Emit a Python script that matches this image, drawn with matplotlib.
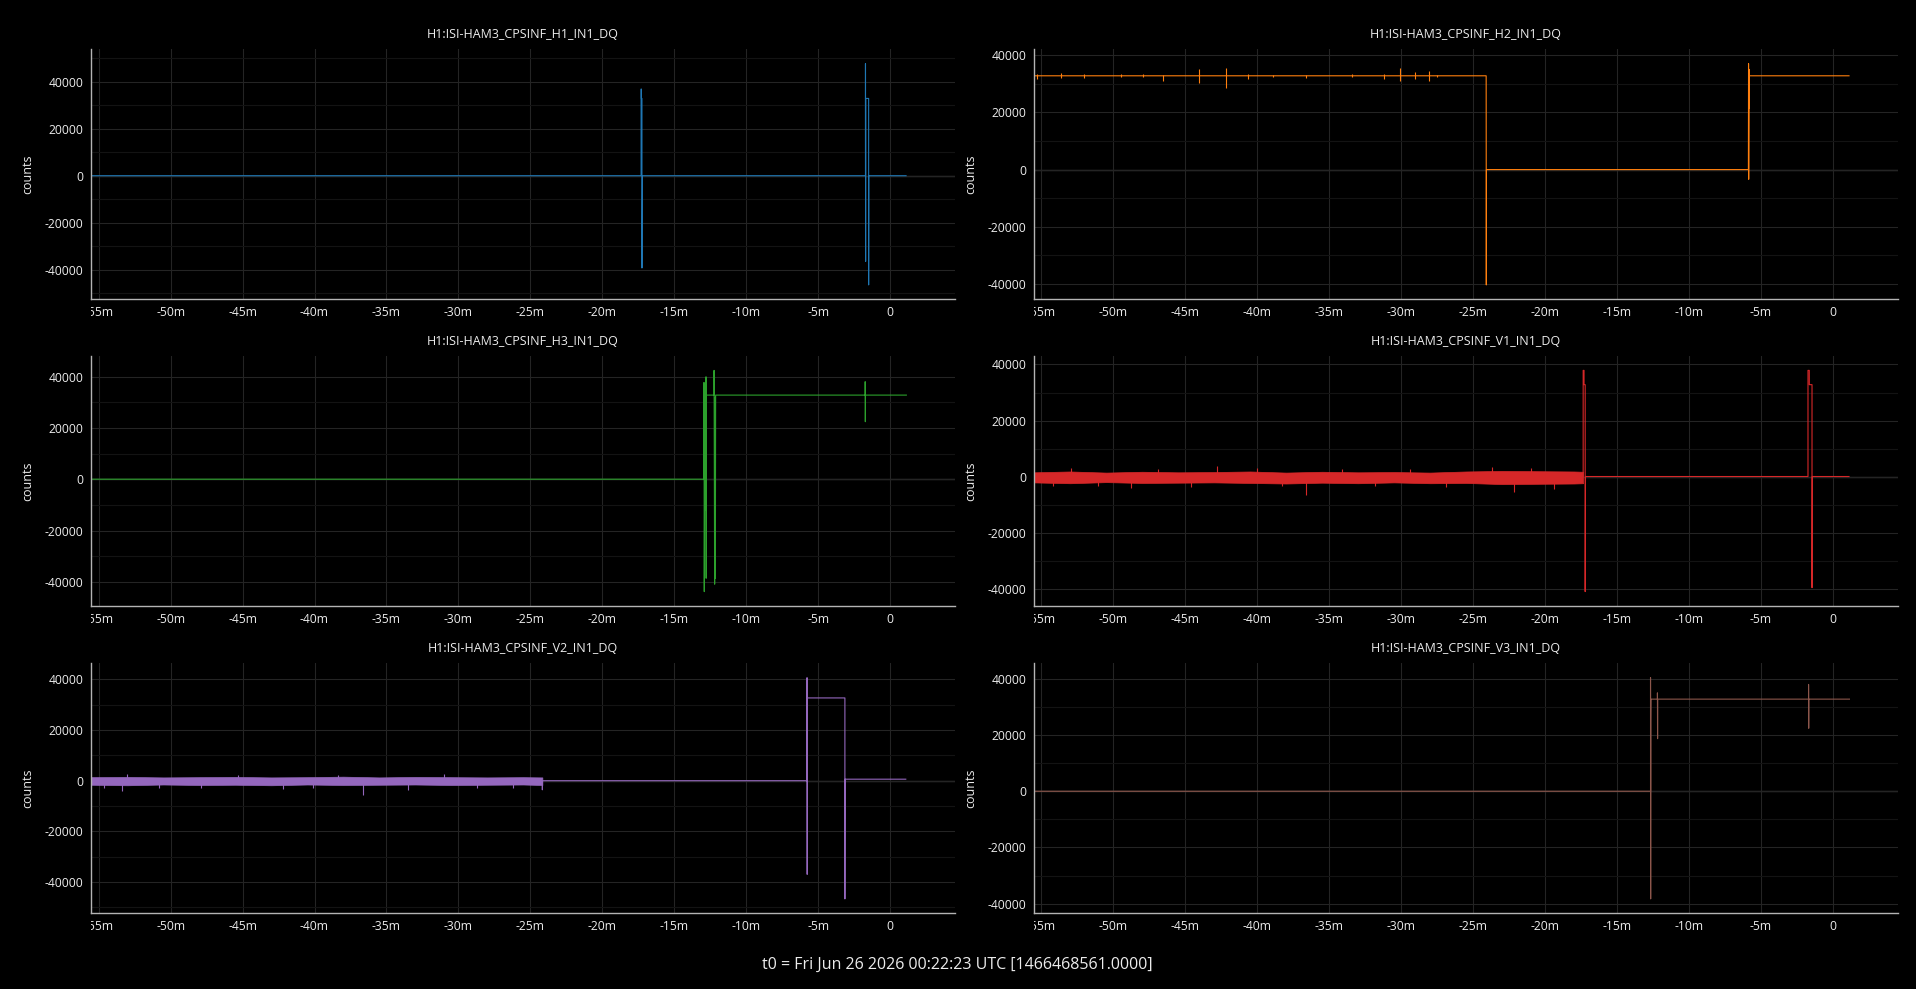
import matplotlib
matplotlib.use('Agg')
import matplotlib.pyplot as plt
from matplotlib.ticker import MultipleLocator, FixedLocator, FuncFormatter
from matplotlib.transforms import Bbox, TransformedBbox

plt.rcParams['font.family'] = ['Open Sans', 'DejaVu Sans']

# ---- data (time in minutes relative to t0, values in counts) ----
channels = ['H1:ISI-HAM3_CPSINF_H1_IN1_DQ', 'H1:ISI-HAM3_CPSINF_H2_IN1_DQ',
            'H1:ISI-HAM3_CPSINF_H3_IN1_DQ', 'H1:ISI-HAM3_CPSINF_V1_IN1_DQ',
            'H1:ISI-HAM3_CPSINF_V2_IN1_DQ', 'H1:ISI-HAM3_CPSINF_V3_IN1_DQ']
colors = ['#1f77b4', '#ff7f0e', '#2ca02c', '#d62728', '#9467bd', '#8c564b']

h1_t = [-55.55, -17.31, -17.31, -17.29, -17.29, -17.25, -17.25, -17.22,
        -1.72, -1.72, -1.71, -1.70, -1.50, -1.50, -1.49, 1.10]
h1_v = [0, 0, 36900, 36900, 32900, 32900, -39300, 0,
        0, 47700, -36500, 32900, 32900, -46500, 0, 0]

h2_t = [-55.55, -24.10, -24.09, -24.08, -5.88, -5.87, -5.86, -5.83, -5.82, -5.81, 1.11]
h2_v = [32768, 32768, -40300, 0, 0, 37000, -3400, 35000, 21500, 32768, 32768]
h2_glitch_t = [-55.3, -53.66, -52.03, -49.5, -47.94, -46.58, -44.02, -42.15, -40.62,
               -38.9, -36.65, -33.4, -31.23, -30.09, -29.05, -28.04, -27.5]
h2_glitch_hi = [33500, 33800, 33500, 33300, 33500, 33200, 35000, 35400, 33500,
                33200, 33200, 33300, 33500, 35400, 34200, 34500, 33200]
h2_glitch_lo = [31500, 32000, 32000, 32300, 32200, 31000, 30300, 28500, 31700,
                32300, 32000, 32200, 31800, 30800, 31500, 31000, 32300]

h3_t = [-55.55, -12.94, -12.94, -12.92, -12.88, -12.86, -12.84, -12.82, -12.80,
        -12.79, -12.77, -12.24, -12.24, -12.20, -12.17, -12.15, -12.13,
        -1.74, -1.74, -1.73, -1.72, 1.12]
h3_v = [0, 0, 37700, -43800, 19700, -11900, 15000, -5000, 39900,
        -38600, 32768, 32768, 42400, -40900, 32000, -38600, 32768,
        32768, 38000, 22400, 32768, 32768]

# V1: noisy envelope before the first glitch, then steps
v1_noise_t = [-55.55, -53.0, -50.5, -48.0, -45.5, -43.0, -40.5, -38.0, -35.5,
              -33.0, -30.5, -28.0, -25.5, -23.0, -20.5, -18.0, -17.36]
v1_noise_hi = [1500, 1800, 1400, 1700, 1500, 1600, 1800, 1400, 1700,
               1500, 1600, 1400, 1800, 2000, 1900, 1800, 1700]
v1_noise_lo = [-2100, -2400, -2000, -2300, -2200, -2100, -2300, -2500, -2200,
               -2400, -2100, -2400, -2300, -2700, -2600, -2500, -2400]
v1_spike_t = [-54.2, -52.97, -51.1, -48.8, -46.9, -44.6, -42.8, -40.0, -38.3,
              -36.65, -34.1, -31.8, -29.4, -26.9, -23.7, -22.2, -21.0, -19.4]
v1_spike_v = [-3300, 3100, -3400, -4000, 2600, -3600, 3600, 2900, -3500,
              -6700, 2700, -3300, 2800, -3600, 3300, -5500, 2900, -4600]
v1_t = [-17.36, -17.36, -17.30, -17.30, -17.22, -17.22, -17.20,
        -1.74, -1.74, -1.65, -1.65, -1.46, -1.46, -1.44, 1.11]
v1_v = [0, 37900, 37900, 32800, 32800, -41100, 0,
        0, 37900, 37900, 32800, 32800, -39700, 0, 0]

# V2: noisy envelope until about -24 min
v2_noise_t = [-55.55, -53.0, -50.5, -48.0, -45.5, -43.0, -40.5, -38.0,
              -35.5, -33.0, -30.5, -28.0, -25.5, -24.17]
v2_noise_hi = [1400, 1500, 1300, 1400, 1500, 1300, 1400, 1600,
               1300, 1500, 1400, 1300, 1400, 1300]
v2_noise_lo = [-1600, -1800, -1500, -1700, -1600, -1800, -1500, -1700,
               -1600, -1500, -1700, -1600, -1500, -1700]
v2_spike_t = [-54.6, -53.4, -53.0, -50.8, -47.9, -45.3, -42.2, -40.1, -38.4,
              -36.6, -33.5, -31.0, -28.7, -26.2]
v2_spike_v = [-2900, -4200, 2500, -2700, -3000, 2300, -3200, -2800, 2200,
              -5600, -3500, 2600, -2800, -3000]
v2_t = [-24.17, -24.17, -24.16, -5.78, -5.78, -5.77, -5.76, -3.15, -3.15, -3.14, 1.08]
v2_v = [0, -3600, 0, 0, 40700, -37000, 32700, 32700, -46700, 600, 600]

v3_t = [-55.55, -12.68, -12.68, -12.67, -12.66, -12.65, -12.20, -12.20,
        -12.19, -12.18, -1.70, -1.70, -1.69, -1.68, 1.14]
v3_v = [0, 0, 40400, -38300, 24900, 32768, 32768, 35000,
        18700, 32768, 32768, 38000, 22400, 32768, 32768]

x_ticks = [-55, -50, -45, -40, -35, -30, -25, -20, -15, -10, -5, 0]
footer = 't0 = Fri Jun 26 2026 00:22:23 UTC [1466468561.0000]'

# ---- figure ----
W, H = 1916, 989
fig = plt.figure(figsize=(W / 100, H / 100), dpi=100, facecolor='black')

txt = '#ececec'
ax_w, ax_h = 864.3, 250
lefts = [90.7, 1033.5]
tops = [49.3, 356, 663.3]

axes = []
for i in range(6):
    row, col = divmod(i, 2)
    ax = fig.add_axes([lefts[col] / W, 1 - (tops[row] + ax_h) / H, ax_w / W, ax_h / H])
    ax.set_facecolor('black')
    axes.append(ax)


def style(ax, title):
    ax.set_xlim(-55.55, 4.5)
    ax.margins(y=0.065)
    ax.xaxis.set_major_locator(FixedLocator(x_ticks))
    ax.xaxis.set_major_formatter(FuncFormatter(lambda v, p: '0' if v == 0 else f'{int(v)}m'))
    ax.yaxis.set_major_locator(MultipleLocator(20000))
    ax.yaxis.set_minor_locator(MultipleLocator(10000))
    ax.yaxis.set_major_formatter(FuncFormatter(lambda v, p: f'{int(v)}'))
    ax.grid(True, which='major', color='#242424', lw=0.8)
    ax.grid(True, which='minor', axis='y', color='#131313', lw=0.8)
    ax.set_axisbelow(True)
    ax.axhline(0, color='#383838', lw=1, zorder=0.5)
    ax.tick_params(which='both', length=0, colors=txt, labelsize=8.7, pad=5)
    for s in ['top', 'right']:
        ax.spines[s].set_visible(False)
    for s in ['left', 'bottom']:
        ax.spines[s].set_color('#b4b4b4')
        ax.spines[s].set_linewidth(1)
    # plotly-like: the -55m label is cut at the y axis
    clip = TransformedBbox(Bbox([[0, -1], [1.5, 1]]), ax.transAxes)
    for tk in ax.xaxis.get_major_ticks():
        tk.label1.set_clip_box(clip)
        tk.label1.set_clip_on(True)
    ax.text(0.5, 1 + 14.5 / ax_h, title, transform=ax.transAxes, ha='center',
            va='center', color=txt, fontsize=9)
    ax.text(-63 / ax_w, 0.5, 'counts', transform=ax.transAxes, rotation=90,
            ha='center', va='center', color=txt, fontsize=9)


lw = 0.8
# H1
axes[0].plot(h1_t, h1_v, color=colors[0], lw=lw)
# H2 with small glitches on the high level
axes[1].plot(h2_t, h2_v, color=colors[1], lw=lw)
axes[1].vlines(h2_glitch_t, h2_glitch_lo, h2_glitch_hi, color=colors[1], lw=lw)
# H3
axes[2].plot(h3_t, h3_v, color=colors[2], lw=lw)
# V1
axes[3].fill_between(v1_noise_t, v1_noise_lo, v1_noise_hi, color=colors[3], lw=0.5)
axes[3].vlines(v1_spike_t, 0, v1_spike_v, color=colors[3], lw=lw)
axes[3].plot(v1_t, v1_v, color=colors[3], lw=lw)
# V2
axes[4].fill_between(v2_noise_t, v2_noise_lo, v2_noise_hi, color=colors[4], lw=0.5)
axes[4].vlines(v2_spike_t, 0, v2_spike_v, color=colors[4], lw=lw)
axes[4].plot(v2_t, v2_v, color=colors[4], lw=lw)
# V3
axes[5].plot(v3_t, v3_v, color=colors[5], lw=lw)

for ax, name in zip(axes, channels):
    style(ax, name)

fig.text(957 / W, 1 - 965 / H, footer, ha='center', va='center', color=txt, fontsize=11.5)

fig.savefig('out.png', dpi=100, facecolor='black')
